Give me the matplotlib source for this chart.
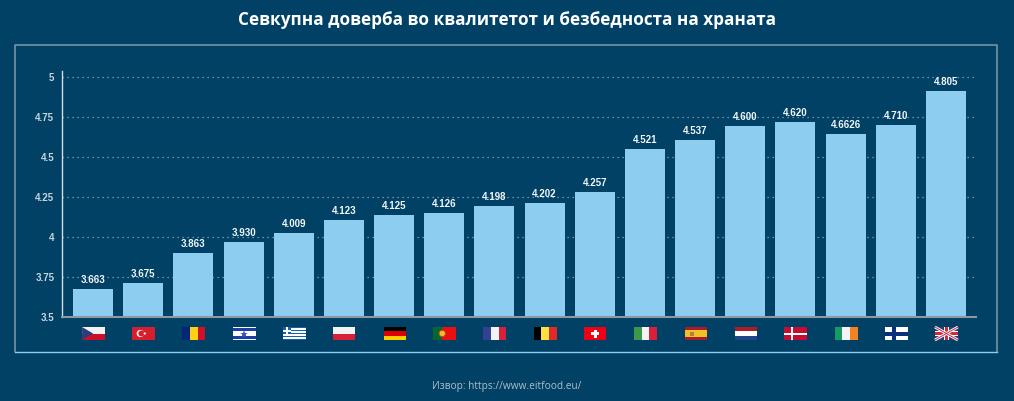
import matplotlib
matplotlib.use("Agg")
from matplotlib import pyplot as plt
from matplotlib.patches import Rectangle, Polygon, Circle

BG = "#004165"
BAR = "#8ccdf0"

flags = ["cz", "tr", "ro", "il", "gr", "pl", "de", "pt", "fr",
         "be", "ch", "it", "es", "nl", "dk", "ie", "fi", "gb"]
# the bars in the picture do not sit exactly at the printed numbers
bar_values = [3.673, 3.71, 3.898, 3.967, 4.023, 4.104, 4.135, 4.148, 4.19,
              4.21, 4.28, 4.548, 4.604, 4.69, 4.717, 4.642, 4.698, 4.91]
bar_labels = ["3.663", "3.675", "3.863", "3.930", "4.009", "4.123", "4.125", "4.126", "4.198",
              "4.202", "4.257", "4.521", "4.537", "4.600", "4.620", "4.6626", "4.710", "4.805"]
y_ticks = [3.5, 3.75, 4, 4.25, 4.5, 4.75, 5]
y_tick_labels = ["3.5", "3.75", "4", "4.25", "4.5", "4.75", "5"]

W, H = 1014, 401
plt.rcParams["font.family"] = ["Liberation Sans", "DejaVu Sans"]
fig = plt.figure(figsize=(W / 100, H / 100), dpi=100, facecolor=BG)

# axes box in pixels: x 62-976, y 71-316.7
ax = fig.add_axes([62 / W, 1 - 316.7 / H, 914 / W, 245.7 / H], facecolor="none")
ax.set_xlim(-0.62, 17.6)
ax.set_ylim(3.5, 3.5 + 245.7 / 160)
ax.grid(axis="y", color="#8fa9b8", linestyle=(0, (1, 3)), linewidth=0.9, zorder=1)
ax.bar(range(len(bar_values)), bar_values, width=0.8, color=BAR, zorder=2)
for i, v in enumerate(bar_values):
    ax.annotate(bar_labels[i], (i, v), xytext=(0, 3), textcoords="offset points", ha="center", va="bottom",
                color="#f2f6f8", fontsize=7, fontweight="bold", zorder=3)

for s in ["top", "right"]:
    ax.spines[s].set_visible(False)
ax.spines["left"].set_color("#d5dde2")
ax.spines["left"].set_linewidth(1)
ax.spines["bottom"].set_color("#8a9ba6")
ax.spines["bottom"].set_linewidth(1.5)
ax.set_xticks([])
ax.set_yticks(y_ticks)
ax.set_yticklabels(y_tick_labels)
ax.tick_params(axis="y", length=0, pad=5.5, labelsize=7, labelcolor="#c9d5dc")
for t in ax.get_yticklabels():
    t.set_fontweight("bold")

# overlay in pixels for the frame and the flags
ov = fig.add_axes([0, 0, 1, 1], facecolor="none")
ov.set_xlim(0, W)
ov.set_ylim(H, 0)
ov.axis("off")

ov.plot([15, 15, 997, 997], [351.5, 45, 45, 351.5], color="#7f9cad", lw=1.1, solid_capstyle="butt")
ov.plot([15, 997], [351.5, 351.5], color="#8ccdf0", lw=1)

RED = "#d81e34"


def rect(x, y, w, h, c):
    ov.add_patch(Rectangle((x, y), w, h, facecolor=c, edgecolor="none"))


def hstripes(x, y, w, h, cols):
    for n, c in enumerate(cols):
        rect(x, y + n * h / len(cols), w, h / len(cols), c)


def vstripes(x, y, w, h, cols):
    for n, c in enumerate(cols):
        rect(x + n * w / len(cols), y, w / len(cols), h, c)


def draw_flag(code, cx):
    w, h = 23, 13
    x, y = cx - w / 2, 327
    if code == "cz":
        hstripes(x, y, w, h, ["#f2f2f2", "#cc1126"])
        ov.add_patch(Polygon([(x, y), (x + 11, y + h / 2), (x, y + h)], facecolor="#2a3f7a", edgecolor="none"))
    elif code == "tr":
        rect(x, y, w, h, "#d81e2c")
        ov.add_patch(Circle((x + 8, y + h / 2), 3.6, facecolor="white", edgecolor="none"))
        ov.add_patch(Circle((x + 9, y + h / 2), 2.9, facecolor="#d81e2c", edgecolor="none"))
        ov.add_patch(Circle((x + 12.5, y + h / 2), 1.1, facecolor="white", edgecolor="none"))
    elif code == "ro":
        vstripes(x, y, w, h, ["#04267a", "#fcd116", "#ce1126"])
    elif code == "il":
        rect(x, y, w, h, "white")
        rect(x, y + 1, w, 3, "#1b3fa8")
        rect(x, y + 9, w, 3, "#1b3fa8")
        ov.plot([cx], [y + h / 2], marker="*", ms=6, color="#3a5cc0", mew=0)
    elif code == "gr":
        hstripes(x, y, w, h, ["#1560ad", "white"] * 4 + ["#1560ad"])
        rect(x, y, 8, 7, "#1560ad")
        rect(x + 3, y, 2, 7, "white")
        rect(x, y + 2.5, 8, 2, "white")
    elif code == "pl":
        hstripes(x + 0.5, y, 22, h, ["#f2f2f2", "#d8203a"])
    elif code == "de":
        hstripes(x + 0.5, y, 22, h, ["#000000", "#dd0000", "#ffce00"])
    elif code == "pt":
        rect(x, y, w, h, "#e81010")
        rect(x, y, 9, h, "#05662f")
        ov.add_patch(Circle((x + 9, y + h / 2), 3.2, facecolor="#f0c020", edgecolor="#c04020", lw=0.6))
    elif code == "fr":
        vstripes(x, y, w, h, ["#334195", "#f2f2f2", "#d8203a"])
    elif code == "be":
        vstripes(x, y, w, h, ["#000000", "#fae042", "#e02a2a"])
    elif code == "ch":
        rect(x + 0.5, y, 22, h, "#f00014")
        rect(cx - 4, y + 5, 8, 3, "white")
        rect(cx - 1.5, y + 2.5, 3, 8, "white")
    elif code == "it":
        vstripes(x, y, w, h, ["#3d9848", "#f4f4f4", "#d8203a"])
    elif code == "es":
        hstripes(x + 0.5, y, 22, h, ["#aa1a2e", "#f1bf28", "#f1bf28", "#aa1a2e"])
        rect(x + 5.5, y + 4.5, 4, 4.5, "#b08040")
    elif code == "nl":
        hstripes(x + 0.5, y, 22, h, ["#ae1c28", "#ffffff", "#21468b"])
    elif code == "dk":
        rect(x, y, w, h, "#c60c30")
        rect(x + 7, y, 2, h, "white")
        rect(x, y + 5.5, w, 2, "white")
        rect(x + w - 0.7, y, 0.7, h, "white")
    elif code == "ie":
        vstripes(x, y, w, h, ["#169b62", "#f4f4f4", "#f58220"])
    elif code == "fi":
        rect(x, y, w, h, "white")
        rect(x + 7, y, 4, h, "#0a2f7c")
        rect(x, y + 4.7, w, 4, "#0a2f7c")
    elif code == "gb":
        rect(x, y, w, h, "#2a3f82")
        ov.plot([x, x + w], [y, y + h], color="white", lw=2, solid_capstyle="butt")
        ov.plot([x, x + w], [y + h, y], color="white", lw=2, solid_capstyle="butt")
        ov.plot([x, x + w], [y, y + h], color="#cc2b3c", lw=0.7, solid_capstyle="butt")
        ov.plot([x, x + w], [y + h, y], color="#cc2b3c", lw=0.7, solid_capstyle="butt")
        rect(cx - 2.5, y, 5, h, "white")
        rect(x, y + 4, w, 5, "white")
        rect(cx - 1.5, y, 3, h, "#cc2b3c")
        rect(x, y + 5, w, 3, "#cc2b3c")


for i, code in enumerate(flags):
    px = ax.transData.transform((i, 0))[0]
    draw_flag(code, px + 0.5)

ov.text(507, 20, "Севкупна доверба во квалитетот и безбедноста на храната", color="white",
        fontsize=12.3, fontweight="bold", family=["Open Sans", "DejaVu Sans"], ha="center", va="center")
ov.text(507, 386, "Извор: https://www.eitfood.eu/", color="#aebfc9",
        fontsize=7.3, family=["Open Sans", "DejaVu Sans"], ha="center", va="center")

fig.savefig("out.png", dpi=100, facecolor=BG)
